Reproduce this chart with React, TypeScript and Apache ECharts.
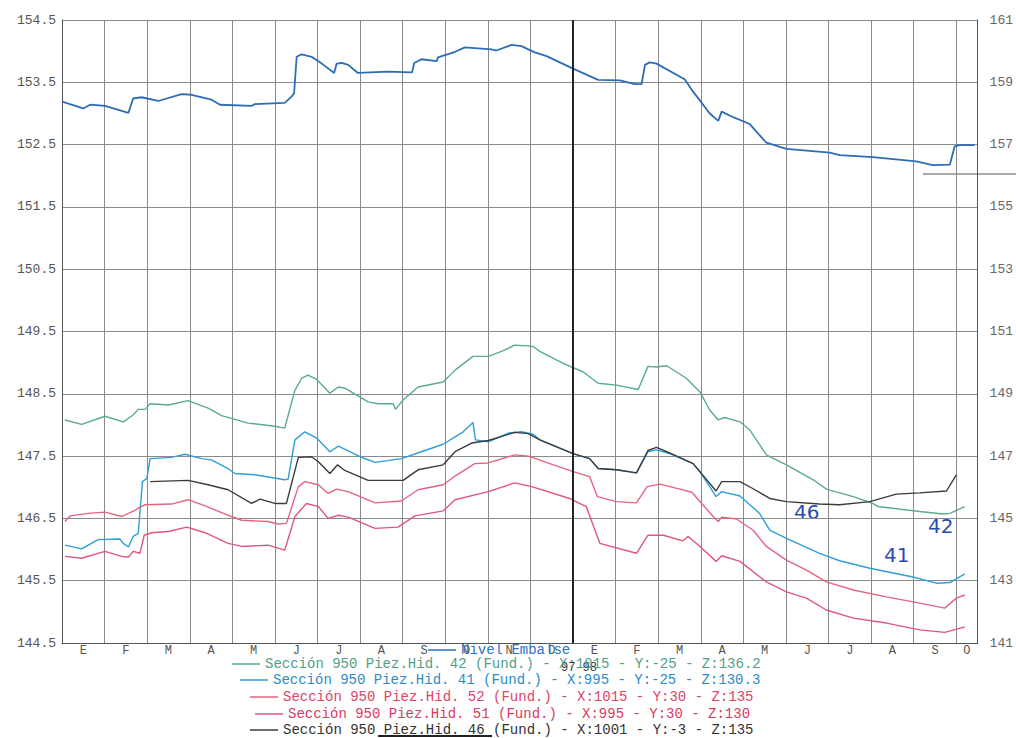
import React, { useEffect, useRef } from 'react';
import * as echarts from 'echarts';

// Month initials (Spanish) for Jan-1997 .. Oct-1998
const monthLabels = ['E','F','M','A','M','J','J','A','S','O','N','D','E','F','M','A','M','J','J','A','S','O'];
// label positions (month centres; the last month is only half shown)
const monthLabelPos = monthLabels.map((_, i) => (i < 21 ? i + 0.5 : 21.25));
const leftTicks = { min: 144.5, max: 154.5, step: 1 };
const rightTicks = { min: 141, max: 161, step: 2 };

// x = months since 1-Jan-1997, y = level (m)
// Reservoir level, read against the right axis
const nivelEmbalse: [number, number][] = [
  [0,158.38],[0.5,158.16],[0.66,158.28],[1.01,158.24],[1.56,158.02],[1.67,158.48],[1.87,158.52],[2.26,158.40],
  [2.81,158.62],[3.04,158.60],[3.51,158.44],[3.71,158.28],[4.45,158.24],[4.53,158.30],[5.23,158.34],[5.39,158.54],
  [5.45,158.64],[5.51,159.82],[5.63,159.90],[5.86,159.82],[6.10,159.60],[6.39,159.30],[6.45,159.60],[6.57,159.62],
  [6.72,159.56],[6.95,159.30],[7.66,159.34],[8.22,159.32],[8.27,159.62],[8.44,159.74],[8.80,159.68],[8.83,159.80],
  [9.23,159.98],[9.46,160.12],[10.09,160.06],[10.20,160.02],[10.56,160.20],[10.79,160.16],[11.10,159.96],[11.38,159.84],
  [12.0,159.44],[12.59,159.08],[13.1,159.06],[13.45,158.94],[13.61,158.94],[13.69,159.56],[13.80,159.64],[13.96,159.60],
  [14.62,159.10],[14.82,158.70],[15.21,158.00],[15.41,157.76],[15.49,158.06],[15.76,157.88],[16.15,157.66],[16.54,157.06],
  [17.01,156.86],[18.03,156.74],[18.26,156.66],[19.04,156.60],[20.06,156.46],[20.45,156.34],[20.85,156.36],[20.96,156.94],
  [21.08,156.98],[21.43,156.98]
];

const piez42: [number, number][] = [
  [0.07,148.08],[0.46,148.01],[1.01,148.14],[1.44,148.05],[1.67,148.16],[1.79,148.25],[1.95,148.25],[2.07,148.34],
  [2.50,148.32],[2.96,148.39],[3.43,148.27],[3.75,148.15],[4.37,148.03],[5.0,147.98],[5.23,147.95],[5.47,148.56],
  [5.63,148.75],[5.78,148.80],[5.98,148.73],[6.29,148.51],[6.49,148.61],[6.64,148.59],[7.19,148.37],[7.42,148.34],
  [7.78,148.34],[7.83,148.25],[8.01,148.40],[8.36,148.61],[8.95,148.69],[9.23,148.88],[9.65,149.10],[10.01,149.10],
  [10.32,149.18],[10.63,149.28],[10.95,149.27],[11.06,149.26],[11.22,149.18],[11.77,148.99],[12.24,148.85],[12.59,148.67],
  [13.02,148.64],[13.53,148.57],[13.76,148.94],[13.96,148.93],[14.20,148.95],[14.66,148.75],[14.98,148.53],[15.21,148.24],
  [15.41,148.08],[15.56,148.12],[15.92,148.05],[16.15,147.92],[16.54,147.52],[17.01,147.36],[17.64,147.12],[17.95,146.97],
  [18.58,146.85],[19.04,146.74],[19.16,146.69],[20.14,146.61],[20.69,146.57],[20.85,146.58],[21.2,146.69]
];

const piez41: [number, number][] = [
  [0.07,146.07],[0.46,146.01],[0.85,146.16],[1.36,146.17],[1.44,146.10],[1.56,146.04],[1.67,146.21],[1.79,146.26],
  [1.89,147.09],[1.99,147.14],[2.07,147.46],[2.57,147.48],[2.89,147.53],[3.28,147.46],[3.51,147.44],[3.90,147.30],
  [4.06,147.22],[4.53,147.20],[5.23,147.12],[5.31,147.13],[5.47,147.76],[5.70,147.89],[5.98,147.79],[6.29,147.57],
  [6.49,147.66],[7.00,147.49],[7.35,147.40],[7.97,147.46],[8.44,147.57],[8.95,147.69],[9.42,147.89],[9.65,148.04],
  [9.71,147.76],[10.01,147.73],[10.48,147.87],[10.79,147.89],[11.06,147.85],[11.22,147.76],[12.0,147.54],[12.39,147.46],
  [12.59,147.30],[13.02,147.28],[13.49,147.23],[13.76,147.57],[13.96,147.60],[14.27,147.54],[14.82,147.38],[14.98,147.25],
  [15.36,146.85],[15.49,146.93],[15.92,146.86],[16.38,146.58],[16.62,146.31],[17.01,146.18],[17.79,145.94],[18.26,145.82],
  [18.97,145.70],[19.98,145.56],[20.53,145.46],[20.85,145.47],[21.20,145.61]
];

const piez52: [number, number][] = [
  [0.07,146.45],[0.19,146.54],[0.62,146.58],[1.01,146.60],[1.40,146.53],[1.71,146.63],[1.95,146.72],[2.57,146.73],
  [2.96,146.80],[3.36,146.70],[3.98,146.53],[4.22,146.47],[4.84,146.45],[5.08,146.41],[5.27,146.42],[5.55,147.01],
  [5.70,147.09],[6.02,147.04],[6.25,146.90],[6.45,146.97],[6.72,146.93],[7.35,146.75],[7.97,146.78],[8.36,146.96],
  [8.95,147.04],[9.23,147.18],[9.69,147.38],[10.01,147.39],[10.63,147.52],[10.95,147.50],[12.0,147.25],[12.39,147.17],
  [12.57,146.85],[13.02,146.77],[13.49,146.75],[13.74,147.01],[14.04,147.05],[14.51,146.97],[14.79,146.92],[15.29,146.53],
  [15.41,146.45],[15.49,146.52],[15.84,146.49],[16.23,146.31],[16.54,146.05],[17.01,145.83],[17.48,145.67],[17.95,145.48],
  [18.58,145.35],[19.36,145.24],[20.14,145.14],[20.73,145.06],[21.0,145.22],[21.2,145.27]
];

const piez51: [number, number][] = [
  [0.07,145.89],[0.46,145.86],[1.01,145.97],[1.40,145.89],[1.56,145.88],[1.67,145.97],[1.83,145.94],[1.93,146.23],
  [2.10,146.27],[2.50,146.29],[2.93,146.36],[3.36,146.27],[3.90,146.10],[4.22,146.05],[4.84,146.07],[5.23,145.99],
  [5.47,146.53],[5.74,146.74],[6.02,146.69],[6.25,146.50],[6.49,146.55],[6.72,146.52],[7.35,146.34],[7.89,146.36],
  [8.29,146.54],[8.95,146.62],[9.23,146.80],[10.01,146.93],[10.63,147.07],[11.03,147.01],[11.92,146.82],[12.31,146.69],
  [12.63,146.10],[13.49,145.94],[13.76,146.23],[14.12,146.23],[14.58,146.14],[14.70,146.21],[14.98,146.05],[15.36,145.81],
  [15.49,145.90],[15.92,145.81],[16.54,145.48],[17.01,145.32],[17.48,145.22],[17.95,145.03],[18.58,144.90],[19.36,144.82],
  [20.14,144.71],[20.73,144.67],[21.2,144.76]
];

const piez46: [number, number][] = [
  [2.07,147.09],[2.96,147.11],[3.43,147.04],[3.90,146.96],[4.45,146.74],[4.65,146.81],[5.0,146.74],[5.27,146.74],
  [5.55,147.48],[5.86,147.49],[6.02,147.41],[6.29,147.22],[6.47,147.36],[6.64,147.27],[7.19,147.11],[8.01,147.11],
  [8.36,147.28],[8.95,147.36],[9.23,147.57],[9.62,147.71],[10.01,147.75],[10.63,147.88],[10.95,147.86],[11.22,147.76],
  [12.0,147.54],[12.39,147.46],[12.59,147.30],[13.02,147.28],[13.49,147.23],[13.76,147.59],[13.96,147.64],[14.27,147.55],
  [14.82,147.38],[15.36,146.94],[15.49,147.09],[15.92,147.09],[16.22,146.98],[16.62,146.82],[17.01,146.77],[17.79,146.73],
  [18.26,146.72],[18.97,146.77],[19.59,146.89],[20.14,146.91],[20.77,146.94],[21.0,147.20]
];

const seriesNames = [
  'Nivel Embalse',
  'Sección 950 Piez.Hid. 42 (Fund.) - X:1015 - Y:-25 - Z:136.2',
  'Sección 950 Piez.Hid. 41 (Fund.) - X:995 - Y:-25 - Z:130.3',
  'Sección 950 Piez.Hid. 52 (Fund.) - X:1015 - Y:30 - Z:135',
  'Sección 950 Piez.Hid. 51 (Fund.) - X:995 - Y:30 - Z:130',
  'Sección 950 Piez.Hid. 46 (Fund.) - X:1001 - Y:-3 - Z:135',
];
const seriesData = [nivelEmbalse, piez42, piez41, piez52, piez51, piez46];
const lineColors = ['#2e6cb6', '#5aab8f', '#2f9fd6', '#e46482', '#e0577a', '#3c3c3c'];
const textColors = ['#2f6fc2', '#4f9f86', '#2a8ccc', '#dd4466', '#d93a5e', '#333333'];
const yearLabel = '97-98';
const annotations = [
  { text: '46', x: 794, y: 502 },
  { text: '41', x: 884, y: 545 },
  { text: '42', x: 928, y: 516 },
];

const MONO = '"Liberation Mono", "DejaVu Sans Mono", monospace';

export default function App() {
  const ref = useRef<HTMLDivElement>(null);

  useEffect(() => {
    const chart = echarts.init(ref.current!, null, { renderer: 'svg' });

    const legendLayout = [
      { left: 428, top: 643 },
      { left: 232, top: 657 },
      { left: 240, top: 673 },
      { left: 250, top: 690 },
      { left: 255, top: 707 },
      { left: 250, top: 723 },
    ];

    const option: any = {
      animation: false,
      backgroundColor: '#ffffff',
      grid: { left: 62, right: 38, top: 20, bottom: 95, containLabel: false },
      xAxis: {
        type: 'value', min: 0, max: 21.5, interval: 1,
        axisLine: { show: true, lineStyle: { color: '#555', width: 1 } },
        axisTick: { show: false },
        axisLabel: {
          show: true, margin: 2, color: '#555', fontFamily: MONO, fontSize: 12, lineHeight: 12,
          customValues: monthLabelPos,
          formatter: (v: number) => monthLabels[Math.min(21, Math.floor(v))],
        },
        splitLine: { show: true, lineStyle: { color: '#8a8a8a', width: 1 } },
      },
      yAxis: [
        {
          type: 'value', min: leftTicks.min, max: leftTicks.max, interval: leftTicks.step, position: 'left',
          axisLine: { show: true, lineStyle: { color: '#555', width: 1 } },
          axisTick: { show: false },
          axisLabel: { color: '#555', fontFamily: MONO, fontSize: 13, margin: 6, formatter: (v: number) => v.toFixed(1) },
          splitLine: { show: true, lineStyle: { color: '#8a8a8a', width: 1 } },
        },
        {
          type: 'value', min: rightTicks.min, max: rightTicks.max, interval: rightTicks.step, position: 'right',
          axisLine: { show: true, lineStyle: { color: '#555', width: 1 } },
          axisTick: { show: false },
          axisLabel: { color: '#666', fontFamily: MONO, fontSize: 13, margin: 12 },
          splitLine: { show: false },
        },
      ],
      legend: seriesNames.map((name, i) => ({
        data: [name],
        left: legendLayout[i].left,
        top: legendLayout[i].top,
        padding: 0,
        icon: 'rect',
        itemWidth: 28,
        itemHeight: 1.5,
        itemGap: 0,
        selectedMode: false,
        textStyle: { color: textColors[i], fontFamily: MONO, fontSize: 14, lineHeight: 14 },
      })),
      series: seriesNames.map((name, i) => ({
        name,
        type: 'line',
        yAxisIndex: i === 0 ? 1 : 0,
        data: seriesData[i],
        symbol: 'none',
        smooth: false,
        lineStyle: { color: lineColors[i], width: i === 0 ? 1.8 : 1.4 },
        itemStyle: { color: lineColors[i] },
        z: i === 0 ? 3 : 2,
        ...(i === 0
          ? {
              markLine: {
                silent: true,
                symbol: 'none',
                lineStyle: { color: '#222', width: 2, type: 'solid' },
                label: { show: false },
                data: [{ xAxis: 12 }],
              },
            }
          : {}),
      })),
      graphic: [
        {
          type: 'text', left: 561, top: 662,
          style: { text: yearLabel, fill: '#333', font: `12px ${MONO}` },
        },
        ...annotations.map((a) => ({
          type: 'text', left: a.x, top: a.y,
          style: { text: a.text, fill: '#2b4cb0', font: '20px "DejaVu Sans", sans-serif' },
        })),
        {
          type: 'line', shape: { x1: 923, y1: 174, x2: 1016, y2: 174 },
          style: { stroke: '#555', lineWidth: 1 },
        },
        {
          type: 'line', shape: { x1: 378, y1: 736, x2: 492, y2: 736 },
          style: { stroke: '#222', lineWidth: 2 },
        },
      ],
    };

    chart.setOption(option);
    return () => chart.dispose();
  }, []);

  return (
    <div
      ref={ref}
      style={{ position: 'fixed', left: 0, top: 0, width: 1016, height: 738, background: '#fff' }}
    />
  );
}
